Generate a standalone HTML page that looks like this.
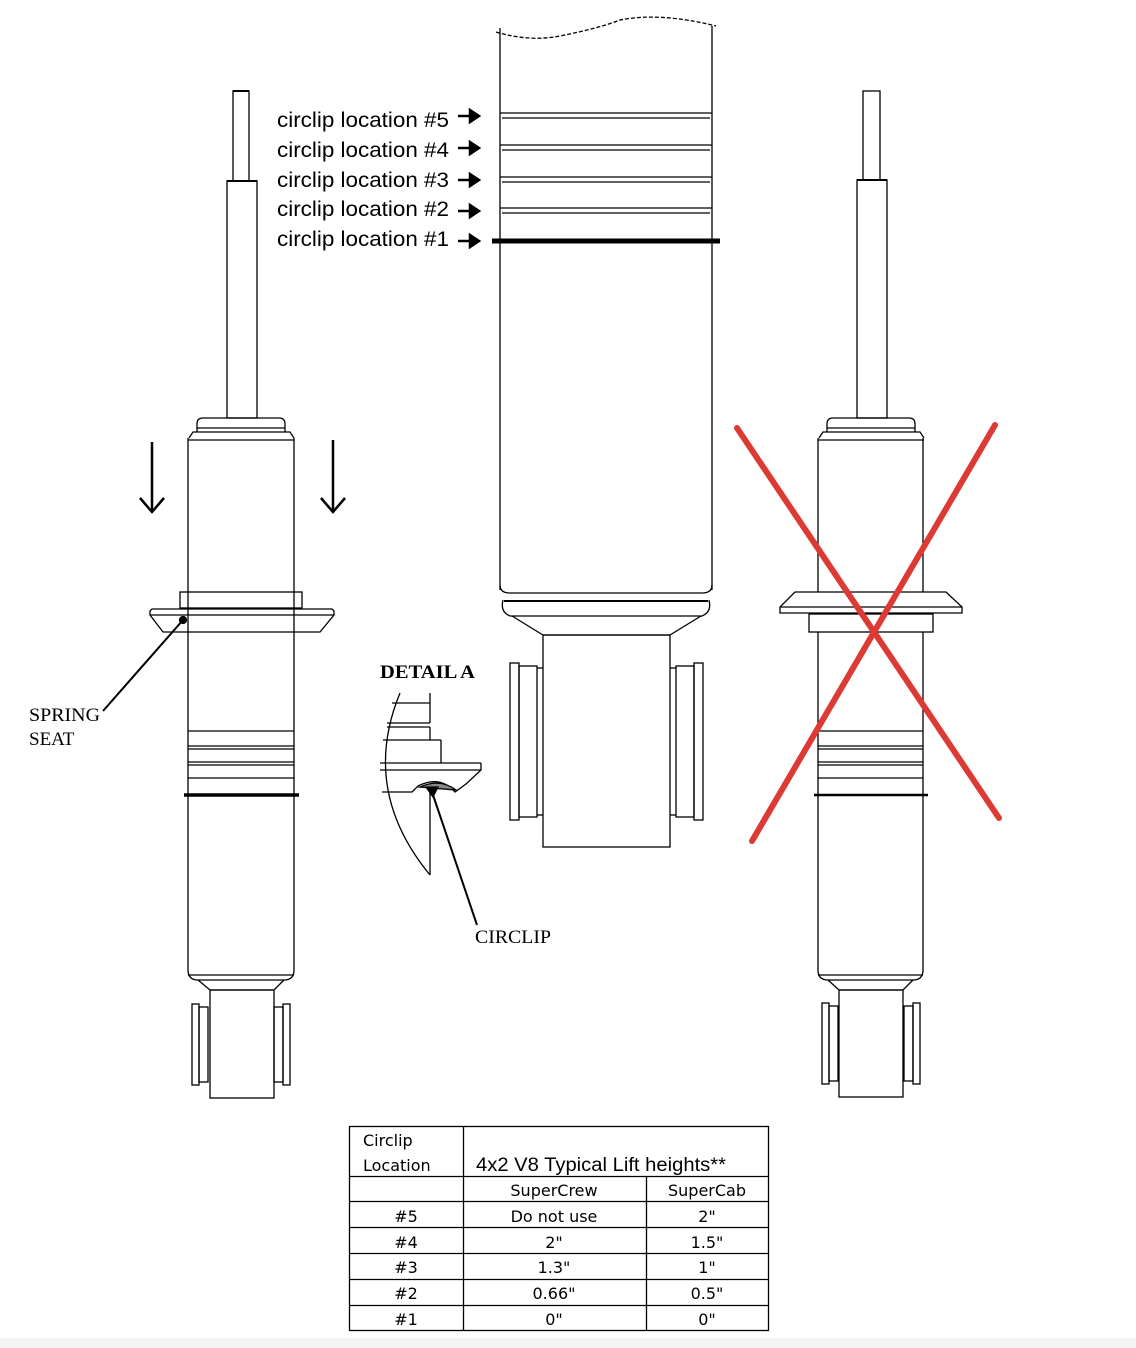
<!DOCTYPE html>
<html><head><meta charset="utf-8"><style>
html,body{margin:0;padding:0;background:#fff}
svg{display:block}
</style></head><body>
<svg width="1136" height="1348" viewBox="0 0 1136 1348" xmlns="http://www.w3.org/2000/svg">
<rect x="0" y="1338" width="1136" height="10" fill="#f4f4f4"/>
<g fill="none" stroke="#000" stroke-width="1.3">
<!-- LEFT SHOCK -->
<rect x="233" y="91" width="16" height="90"/>
<line x1="233" y1="91" x2="249" y2="91" stroke-width="2"/>
<rect x="227" y="181" width="30" height="237"/>
<line x1="227" y1="181" x2="257" y2="181" stroke-width="2"/>
<path d="M197 432 V424 Q197 418 203 418 H279 Q285 418 285 424 V432"/>
<line x1="197" y1="428" x2="285" y2="428"/>
<path d="M189 438 L193 432 H290 L294 438"/>
<line x1="188" y1="440" x2="294" y2="440"/>
<line x1="188" y1="438" x2="188" y2="970"/>
<line x1="294" y1="438" x2="294" y2="970"/>
<rect x="180" y="592" width="122" height="16"/>
<path d="M150 611 L152 609 H332 L334 611 V615 L320 632 H163 L150 615 Z"/>
<line x1="150" y1="615" x2="334" y2="615"/>
<line x1="188" y1="731" x2="294" y2="731"/>
<line x1="188" y1="746" x2="294" y2="746"/>
<line x1="188" y1="749" x2="294" y2="749"/>
<line x1="188" y1="762" x2="294" y2="762"/>
<line x1="188" y1="765" x2="294" y2="765"/>
<line x1="188" y1="778" x2="294" y2="778"/>
<line x1="184" y1="795" x2="299" y2="795" stroke-width="3.5"/>
<path d="M188 970 Q188 980 198 980 H284 Q294 980 294 970"/>
<line x1="188" y1="975" x2="294" y2="975"/>
<path d="M198 980 L210 990 H274 L284 980"/>
<rect x="210" y="990" width="64" height="108"/>
<rect x="192" y="1004" width="7" height="81"/><rect x="199" y="1007" width="9" height="75"/>
<rect x="283" y="1004" width="7" height="81"/><rect x="274" y="1007" width="9" height="75"/>
<!-- arrows -->
<g stroke-width="2.5"><line x1="152" y1="442" x2="152" y2="512"/><path d="M140 498 L152 512 L164 498"/>
<line x1="333" y1="440" x2="333" y2="512"/><path d="M321 498 L333 512 L345 498"/></g>
<!-- spring seat leader -->
<line x1="183" y1="620" x2="103" y2="711" stroke-width="2"/>
<circle cx="183" cy="620" r="3.5" fill="#000"/>

<!-- CENTER -->
<path d="M496 32 Q530 42 560 36 Q600 28 620 20 Q660 12 716 26" stroke-dasharray="4 2"/>
<line x1="500" y1="28" x2="500" y2="590"/>
<line x1="712" y1="26" x2="712" y2="590"/>
<g>
<line x1="500" y1="113" x2="712" y2="113"/><line x1="502" y1="118" x2="710" y2="118"/>
<line x1="500" y1="145" x2="712" y2="145"/><line x1="502" y1="150" x2="710" y2="150"/>
<line x1="500" y1="177" x2="712" y2="177"/><line x1="502" y1="182" x2="710" y2="182"/>
<line x1="500" y1="208" x2="712" y2="208"/><line x1="502" y1="213" x2="710" y2="213"/>
</g>
<line x1="492" y1="241" x2="720" y2="241" stroke-width="5"/>
<path d="M500 585 Q500 593 510 593 H702 Q712 593 712 585"/>
<line x1="504" y1="601" x2="708" y2="601" stroke-width="2"/>
<path d="M503 600 Q500 612 510 616 H702 Q712 612 709 600"/>
<path d="M512 616 L543 635 H670 L701 616"/>
<rect x="543" y="635" width="127" height="212"/>
<rect x="510" y="663" width="9" height="157"/><rect x="519" y="666" width="18" height="151"/><line x1="537" y1="668" x2="543" y2="668"/><line x1="537" y1="815" x2="543" y2="815"/>
<rect x="694" y="663" width="9" height="157"/><rect x="676" y="666" width="18" height="151"/><line x1="670" y1="668" x2="676" y2="668"/><line x1="670" y1="815" x2="676" y2="815"/>

<!-- DETAIL A -->
<path d="M400 693 Q360 790 430 875"/>
<line x1="430" y1="790" x2="430" y2="875"/>
<line x1="392" y1="703" x2="430" y2="703"/><line x1="430" y1="693" x2="430" y2="723"/>
<line x1="387" y1="723" x2="430" y2="723"/><line x1="387" y1="727" x2="430" y2="727"/>
<line x1="430" y1="727" x2="430" y2="740"/><line x1="383" y1="740" x2="441" y2="740"/>
<line x1="441" y1="740" x2="441" y2="763"/><line x1="380" y1="763" x2="481" y2="763"/>
<path d="M481 763 V770 L466 784 L455 792 Q440 775 418 786 L412 792 H382"/>
<line x1="380" y1="770" x2="481" y2="770"/>
<path d="M420 787 Q440 778 456 790 Z" fill="#888"/>
<line x1="431" y1="789" x2="477" y2="925" stroke-width="2"/>
<path d="M426 787 L438 787 L433 797 Z" fill="#000"/>

<!-- RIGHT SHOCK -->
<rect x="863" y="91" width="17" height="89"/>
<rect x="857" y="180" width="30" height="238"/>
<line x1="857" y1="180" x2="887" y2="180" stroke-width="2"/>
<path d="M827 432 V424 Q827 418 833 418 H909 Q915 418 915 424 V432"/>
<line x1="827" y1="428" x2="915" y2="428"/>
<path d="M819 438 L823 432 H920 L924 438"/>
<line x1="818" y1="440" x2="924" y2="440"/>
<line x1="818" y1="438" x2="818" y2="592"/>
<line x1="923" y1="438" x2="923" y2="592"/>
<path d="M795 592 H946 L962 607 V613 H780 V607 Z"/>
<line x1="780" y1="607" x2="962" y2="607"/>
<rect x="809" y="614" width="124" height="18"/>
<line x1="818" y1="632" x2="818" y2="970"/>
<line x1="923" y1="632" x2="923" y2="970"/>
<line x1="818" y1="731" x2="923" y2="731"/>
<line x1="818" y1="746" x2="923" y2="746"/>
<line x1="818" y1="749" x2="923" y2="749"/>
<line x1="818" y1="762" x2="923" y2="762"/>
<line x1="818" y1="765" x2="923" y2="765"/>
<line x1="818" y1="778" x2="923" y2="778"/>
<line x1="814" y1="795" x2="928" y2="795" stroke-width="2.5"/>
<path d="M818 970 Q818 980 828 980 H913 Q923 980 923 970"/>
<line x1="818" y1="975" x2="923" y2="975"/>
<path d="M828 980 L839 990 H903 L913 980"/>
<rect x="839" y="990" width="64" height="107"/>
<rect x="822" y="1003" width="7" height="81"/><rect x="829" y="1006" width="9" height="75"/>
<rect x="913" y="1003" width="7" height="81"/><rect x="904" y="1006" width="9" height="75"/>
</g>
<!-- red X -->
<g stroke="#dc3a32" stroke-width="6" stroke-linecap="round">
<line x1="737" y1="428" x2="999" y2="818"/>
<line x1="995" y1="425" x2="752" y2="841"/>
</g>
<!-- circlip labels -->
<g font-family="'Liberation Sans',sans-serif" font-size="21" fill="#000">
<text x="277" y="127" textLength="172" lengthAdjust="spacingAndGlyphs">circlip location #5</text>
<text x="277" y="157" textLength="172" lengthAdjust="spacingAndGlyphs">circlip location #4</text>
<text x="277" y="187" textLength="172" lengthAdjust="spacingAndGlyphs">circlip location #3</text>
<text x="277" y="216" textLength="172" lengthAdjust="spacingAndGlyphs">circlip location #2</text>
<text x="277" y="246" textLength="172" lengthAdjust="spacingAndGlyphs">circlip location #1</text>
</g>
<g fill="#000" stroke="#000" stroke-width="2.5">
<line x1="458" y1="116" x2="470" y2="116"/><path d="M470 110 L479 116 L470 122Z"/>
<line x1="458" y1="148" x2="470" y2="148"/><path d="M470 142 L479 148 L470 154Z"/>
<line x1="458" y1="180" x2="470" y2="180"/><path d="M470 174 L479 180 L470 186Z"/>
<line x1="458" y1="211" x2="470" y2="211"/><path d="M470 205 L479 211 L470 217Z"/>
<line x1="458" y1="241" x2="470" y2="241"/><path d="M470 235 L479 241 L470 247Z"/>
</g>
<g font-family="'Liberation Serif',serif" font-size="19" fill="#000">
<text x="29" y="721" textLength="71" lengthAdjust="spacingAndGlyphs">SPRING</text>
<text x="29" y="745">SEAT</text>
<text x="475" y="943" textLength="76" lengthAdjust="spacingAndGlyphs">CIRCLIP</text>
<text x="380" y="678" font-weight="bold" textLength="95" lengthAdjust="spacingAndGlyphs">DETAIL A</text>
</g>
<!-- table -->
<g fill="none" stroke="#000" stroke-width="1.3">
<rect x="349.5" y="1126.5" width="419" height="204"/>
<line x1="463.5" y1="1126" x2="463.5" y2="1331"/>
<line x1="646.5" y1="1176" x2="646.5" y2="1331"/>
<line x1="349" y1="1176.5" x2="769" y2="1176.5"/>
<line x1="349" y1="1201.5" x2="769" y2="1201.5"/>
<line x1="349" y1="1227.5" x2="769" y2="1227.5"/>
<line x1="349" y1="1253.5" x2="769" y2="1253.5"/>
<line x1="349" y1="1279.5" x2="769" y2="1279.5"/>
<line x1="349" y1="1305.5" x2="769" y2="1305.5"/>
</g>
<g font-family="'DejaVu Sans','Liberation Sans',sans-serif" font-size="16" fill="#000">
<text x="363" y="1146">Circlip</text>
<text x="363" y="1171">Location</text>
<text x="476" y="1171" font-family="'Liberation Sans',sans-serif" font-size="19" textLength="250" lengthAdjust="spacingAndGlyphs">4x2 V8 Typical Lift heights**</text>
<g text-anchor="middle">
<text x="554" y="1196">SuperCrew</text><text x="707" y="1196">SuperCab</text>
<text x="406" y="1222">#5</text><text x="554" y="1222">Do not use</text><text x="707" y="1222">2"</text>
<text x="406" y="1248">#4</text><text x="554" y="1248">2"</text><text x="707" y="1248">1.5"</text>
<text x="406" y="1273">#3</text><text x="554" y="1273">1.3"</text><text x="707" y="1273">1"</text>
<text x="406" y="1299">#2</text><text x="554" y="1299">0.66"</text><text x="707" y="1299">0.5"</text>
<text x="406" y="1325">#1</text><text x="554" y="1325">0"</text><text x="707" y="1325">0"</text>
</g>
</g>
</svg>
</body></html>
